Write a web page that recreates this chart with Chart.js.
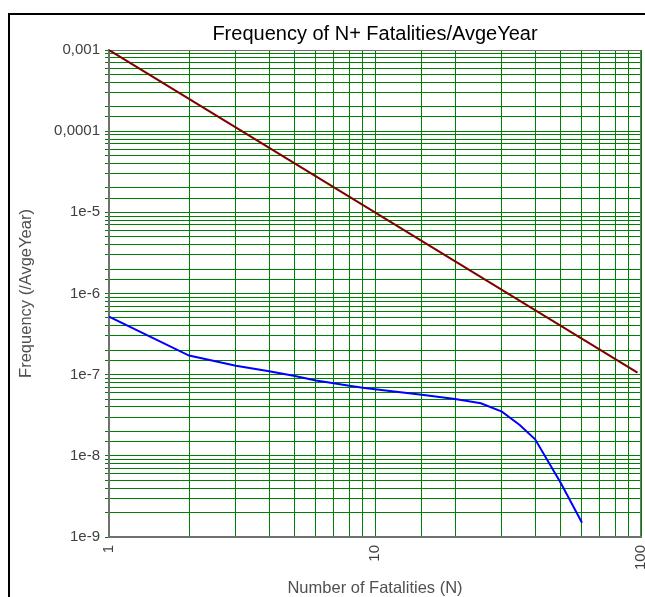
<!DOCTYPE html>
<html>
<head>
<meta charset="utf-8">
<title>Frecuencia N+</title>
<script src="https://cdn.jsdelivr.net/npm/chart.js@4.4.1/dist/chart.umd.min.js"></script>
<style>
  html, body { margin: 0; padding: 0; background: #fff; overflow: hidden; }
  #contenedor { position: relative; width: 645px; height: 597px; }
  #grafico { position: absolute; left: 0; top: 0; }
  #marco {
    position: absolute; left: 8px; top: 13px; width: 700px; height: 700px;
    border-left: 2px solid #000; border-top: 2px solid #000; pointer-events: none;
  }
</style>
</head>
<body>
<div id="contenedor">
  <canvas id="grafico" width="645" height="597"></canvas>
  <div id="marco"></div>
</div>
<script>
// =========================
// Datos
// =========================
// Línea de criterio (roja)
const nCriterio = [1, 97];
const frecCriterio = [1e-3, 1.06e-7];

// Curva FN calculada (azul)
const nCurva = [1, 2, 3, 4, 5, 6, 7, 8, 9, 10, 15, 20, 25, 30, 35, 40, 50, 60];
const frecCurva = [5.2e-7, 1.72e-7, 1.29e-7, 1.10e-7, 9.6e-8, 8.5e-8, 7.85e-8, 7.3e-8, 6.9e-8, 6.6e-8,
                   5.65e-8, 5.0e-8, 4.45e-8, 3.5e-8, 2.4e-8, 1.6e-8, 4.6e-9, 1.5e-9];

// Etiquetas de los ejes
const xEtiquetas = [1, 10, 100];
const yExponentes = [-9, -8, -7, -6, -5, -4, -3];
const yEtiquetas = ['1e-9', '1e-8', '1e-7', '1e-6', '1e-5', '0,0001', '0,001'];

const fuente = "'Liberation Sans', Arial, sans-serif";

// =========================
// Formato de etiquetas
// =========================
function etiquetaY(valor) {
    const e = Math.log10(valor);
    const i = yExponentes.findIndex(x => Math.abs(x - e) < 1e-6);
    return i >= 0 ? yEtiquetas[i] : '';
}

function etiquetaX(valor) {
    const i = xEtiquetas.findIndex(x => Math.abs(x - valor) < 1e-6);
    return i >= 0 ? String(xEtiquetas[i]) : '';
}

function aPuntos(xs, ys) {
    return xs.map((x, i) => ({ x: x, y: ys[i] }));
}

// =========================
// Marco gris del área de trazado
// =========================
const marcoPlot = {
    id: 'marcoPlot',
    beforeDatasetsDraw(chart) {
        const { ctx, chartArea: a } = chart;
        ctx.save();
        ctx.strokeStyle = '#707070';
        ctx.lineWidth = 1;
        ctx.strokeRect(a.left + 0.5, a.top + 0.5, a.right - a.left - 1, a.bottom - a.top - 1);
        ctx.restore();
    }
};

// =========================
// Gráfico
// =========================
const ctx = document.getElementById("grafico").getContext("2d");

new Chart(ctx, {
    type: 'line',
    data: {
        datasets: [
            {
                label: 'Criterio',
                data: aPuntos(nCriterio, frecCriterio),
                borderColor: '#800000',
                borderWidth: 2,
                pointRadius: 0,
                tension: 0
            },
            {
                label: 'Curva FN',
                data: aPuntos(nCurva, frecCurva),
                borderColor: '#0000ff',
                borderWidth: 2,
                pointRadius: 0,
                tension: 0
            }
        ]
    },
    options: {
        responsive: false,
        animation: false,
        layout: { padding: { left: 0, right: 4, top: 0, bottom: 0 } },
        plugins: {
            legend: { display: false },
            tooltip: { enabled: false },
            title: {
                display: true,
                text: 'Frequency of N+ Fatalities/AvgeYear',
                fullSize: false,
                color: '#000',
                font: { family: fuente, size: 20, weight: 'normal', lineHeight: 1.2 },
                padding: { top: 22, bottom: 4 }
            }
        },
        scales: {
            x: {
                type: 'logarithmic',
                min: 1,
                max: 100,
                border: { color: '#707070', width: 2 },
                grid: { color: '#008000', lineWidth: 1, drawTicks: false },
                ticks: {
                    autoSkip: false,
                    minRotation: 90,
                    maxRotation: 90,
                    padding: 8,
                    color: '#404040',
                    font: { family: fuente, size: 15 },
                    callback: etiquetaX
                },
                title: {
                    display: true,
                    text: 'Number of Fatalities (N)',
                    color: '#505050',
                    font: { family: fuente, size: 16.5, lineHeight: 1 },
                    padding: { top: 0, bottom: 0 }
                },
                afterFit: function (escala) {
                    escala.height = 60;
                    escala.paddingLeft = 0;
                    escala.paddingRight = 0;
                }
            },
            y: {
                type: 'logarithmic',
                min: 1e-9,
                max: 1e-3,
                border: { color: '#707070', width: 2 },
                grid: { color: '#008000', lineWidth: 1, tickLength: 4 },
                ticks: {
                    autoSkip: false,
                    padding: 5,
                    color: '#404040',
                    font: { family: fuente, size: 15 },
                    callback: etiquetaY
                },
                title: {
                    display: true,
                    text: 'Frequency (/AvgeYear)',
                    color: '#505050',
                    font: { family: fuente, size: 16.5, lineHeight: 1.2 },
                    padding: { top: 17, bottom: 0 }
                },
                afterFit: function (escala) {
                    escala.width = 109;
                }
            }
        }
    },
    plugins: [marcoPlot]
});
</script>
</body>
</html>
